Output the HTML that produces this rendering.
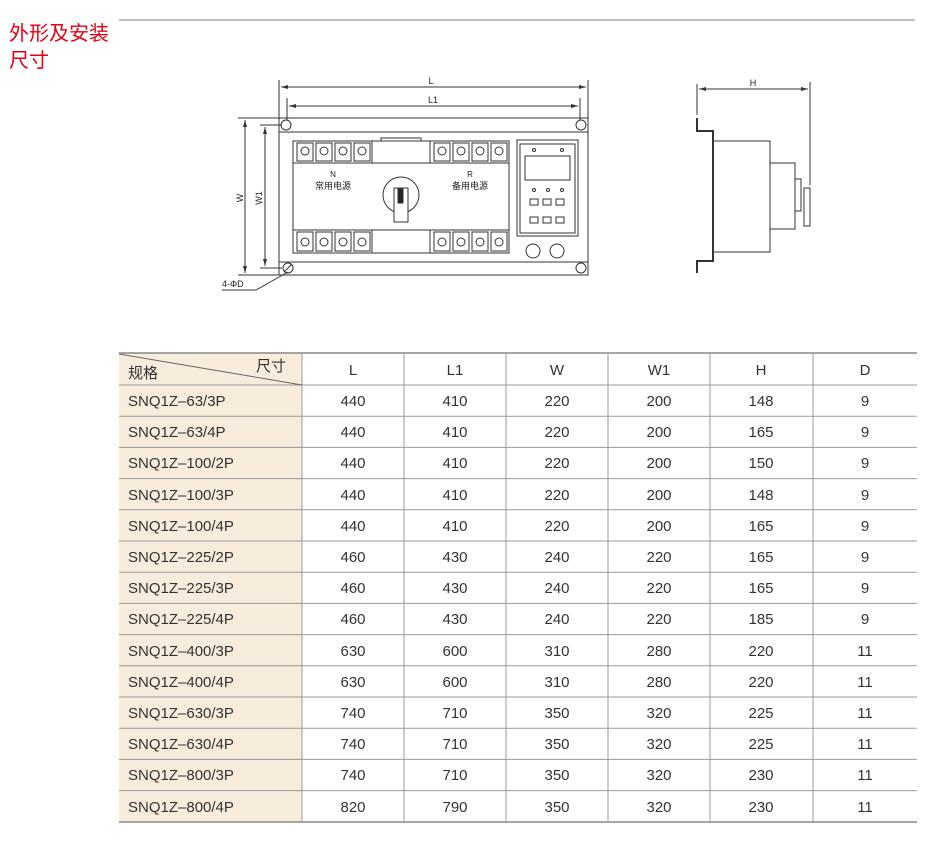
<!DOCTYPE html>
<html><head><meta charset="utf-8"><style>
body{margin:0;background:#fff;width:940px;height:858px;overflow:hidden}
svg{display:block}
.t{font-family:"Liberation Sans","Noto Sans CJK SC",sans-serif}
</style></head><body>
<svg width="940" height="858" viewBox="0 0 940 858" xmlns="http://www.w3.org/2000/svg">
<g class="t" fill="#e60012" font-size="20">
<text x="9" y="40">外形及安装</text>
<text x="9" y="67">尺寸</text>
</g>
<line x1="119" y1="20" x2="915" y2="20" stroke="#999" stroke-width="1.2"/>

<!-- front view -->
<g stroke="#333" stroke-width="1" fill="none">
<line x1="279" y1="80" x2="279" y2="118"/><line x1="588" y1="80" x2="588" y2="118"/>
<line x1="281" y1="87" x2="586" y2="87"/>
<line x1="287" y1="98" x2="287" y2="120"/><line x1="580" y1="98" x2="580" y2="120"/>
<line x1="289" y1="106" x2="578" y2="106"/>
<line x1="238" y1="118" x2="279" y2="118"/><line x1="238" y1="275" x2="279" y2="275"/>
<line x1="245" y1="120" x2="245" y2="273"/>
<line x1="260" y1="125" x2="282" y2="125"/><line x1="260" y1="268" x2="282" y2="268"/>
<line x1="265" y1="127" x2="265" y2="266"/>
<rect x="279" y="118" width="309" height="157"/>
<line x1="279" y1="132" x2="588" y2="132"/><line x1="279" y1="262" x2="588" y2="262"/>
<circle cx="286" cy="125" r="5"/><circle cx="581" cy="125" r="5"/>
<circle cx="288" cy="268" r="5"/><circle cx="581" cy="268" r="5"/>
<line x1="284" y1="272" x2="292" y2="264"/>
<polyline points="288,272 256,290 222,290"/>
<rect x="293" y="141" width="216" height="112"/>
<line x1="293" y1="163" x2="509" y2="163"/><line x1="293" y1="230" x2="509" y2="230"/>
<line x1="372" y1="141" x2="372" y2="163"/><line x1="430" y1="141" x2="430" y2="163"/>
<line x1="372" y1="230" x2="372" y2="253"/><line x1="430" y1="230" x2="430" y2="253"/>
<rect x="381" y="138" width="40" height="3"/>
<g>
<rect x="297" y="143" width="16" height="18"/><rect x="316" y="143" width="16" height="18"/><rect x="335" y="143" width="16" height="18"/><rect x="354" y="143" width="16" height="18"/>
<rect x="434" y="143" width="16" height="18"/><rect x="453" y="143" width="16" height="18"/><rect x="472" y="143" width="16" height="18"/><rect x="491" y="143" width="16" height="18"/>
<rect x="297" y="232" width="16" height="19"/><rect x="316" y="232" width="16" height="19"/><rect x="335" y="232" width="16" height="19"/><rect x="354" y="232" width="16" height="19"/>
<rect x="434" y="232" width="16" height="19"/><rect x="453" y="232" width="16" height="19"/><rect x="472" y="232" width="16" height="19"/><rect x="491" y="232" width="16" height="19"/>
</g>
<g>
<circle cx="305" cy="151" r="4"/><circle cx="324" cy="151" r="4"/><circle cx="343" cy="151" r="4"/><circle cx="362" cy="151" r="4"/>
<circle cx="442" cy="151" r="4"/><circle cx="461" cy="151" r="4"/><circle cx="480" cy="151" r="4"/><circle cx="499" cy="151" r="4"/>
<circle cx="305" cy="242" r="4"/><circle cx="324" cy="242" r="4"/><circle cx="343" cy="242" r="4"/><circle cx="362" cy="242" r="4"/>
<circle cx="442" cy="242" r="4"/><circle cx="461" cy="242" r="4"/><circle cx="480" cy="242" r="4"/><circle cx="499" cy="242" r="4"/>
</g>
<circle cx="401" cy="195" r="18"/>
<rect x="394" y="188" width="14" height="34" fill="#fff"/>
<rect x="398" y="189" width="5" height="14" fill="#222"/>
<rect x="517" y="140" width="61" height="96"/><rect x="520" y="144" width="55" height="89"/>
<rect x="525" y="156" width="45" height="24"/>
<circle cx="534" cy="150" r="1.5"/><circle cx="562" cy="150" r="1.5"/>
<circle cx="534" cy="190" r="1.5"/><circle cx="548" cy="190" r="1.5"/><circle cx="562" cy="190" r="1.5"/>
<rect x="530" y="199" width="8" height="6"/><rect x="543" y="199" width="8" height="6"/><rect x="556" y="199" width="8" height="6"/>
<rect x="530" y="217" width="8" height="6"/><rect x="543" y="217" width="8" height="6"/><rect x="556" y="217" width="8" height="6"/>
<circle cx="533" cy="251" r="7"/><circle cx="557" cy="251" r="7"/>
</g>
<g fill="#333" stroke="none">
<polygon points="281,87 288,85 288,89"/><polygon points="586,87 579,85 579,89"/>
<polygon points="289,106 296,104 296,108"/><polygon points="578,106 571,104 571,108"/>
<polygon points="245,120 243,127 247,127"/><polygon points="245,273 243,266 247,266"/>
<polygon points="265,127 263,134 267,134"/><polygon points="265,266 263,259 267,259"/>
</g>
<g class="t" fill="#222" font-size="9">
<text x="431" y="84" text-anchor="middle">L</text>
<text x="433" y="103" text-anchor="middle">L1</text>
<text x="243" y="198" text-anchor="middle" transform="rotate(-90 243 198)">W</text>
<text x="262" y="198" text-anchor="middle" transform="rotate(-90 262 198)">W1</text>
<text x="222" y="287">4-ΦD</text>
<text x="333" y="177" text-anchor="middle" font-size="8">N</text>
<text x="333" y="189" text-anchor="middle">常用电源</text>
<text x="470" y="177" text-anchor="middle" font-size="8">R</text>
<text x="470" y="189" text-anchor="middle">备用电源</text>
<text x="753" y="86" text-anchor="middle">H</text>
</g>

<!-- side view -->
<g stroke="#333" stroke-width="1" fill="none">
<line x1="697" y1="84" x2="697" y2="115"/><line x1="810" y1="82" x2="810" y2="185"/>
<line x1="699" y1="89" x2="808" y2="89"/>
<polyline points="697,118 697,131 713,131 713,261 697,261 697,273" stroke-width="2"/>
<rect x="713" y="141" width="57" height="111"/>
<rect x="770" y="163" width="25" height="66"/>
<rect x="795" y="179" width="6" height="32"/>
<rect x="804" y="188" width="6" height="38"/>
</g>
<g fill="#333"><polygon points="699,89 706,87 706,91"/><polygon points="808,89 801,87 801,91"/></g>

<!-- table -->
<rect x="119" y="353" width="183" height="469" fill="#f8ecdc"/>
<g stroke="#999" stroke-width="1">
<line x1="119" y1="353" x2="917" y2="353" stroke-width="1.5" stroke="#888"/>
<line x1="119" y1="385" x2="917" y2="385"/>
<line x1="119" y1="416.2" x2="917" y2="416.2"/><line x1="119" y1="447.4" x2="917" y2="447.4"/>
<line x1="119" y1="478.6" x2="917" y2="478.6"/><line x1="119" y1="509.8" x2="917" y2="509.8"/>
<line x1="119" y1="541" x2="917" y2="541"/><line x1="119" y1="572.2" x2="917" y2="572.2"/>
<line x1="119" y1="603.4" x2="917" y2="603.4"/><line x1="119" y1="634.6" x2="917" y2="634.6"/>
<line x1="119" y1="665.8" x2="917" y2="665.8"/><line x1="119" y1="697" x2="917" y2="697"/>
<line x1="119" y1="728.2" x2="917" y2="728.2"/><line x1="119" y1="759.4" x2="917" y2="759.4"/>
<line x1="119" y1="790.6" x2="917" y2="790.6"/>
<line x1="119" y1="822" x2="917" y2="822" stroke-width="1.5" stroke="#888"/>
<line x1="302" y1="353" x2="302" y2="822"/><line x1="404" y1="353" x2="404" y2="822"/>
<line x1="506" y1="353" x2="506" y2="822"/><line x1="608" y1="353" x2="608" y2="822"/>
<line x1="710" y1="353" x2="710" y2="822"/><line x1="813" y1="353" x2="813" y2="822"/>
<line x1="119" y1="354" x2="302" y2="385" stroke="#666"/>
</g>
<g class="t" fill="#333" font-size="15">
<text x="128" y="378">规格</text><text x="256" y="371">尺寸</text>
<g text-anchor="middle">
<text x="353" y="375">L</text><text x="455" y="375">L1</text><text x="557" y="375">W</text>
<text x="659" y="375">W1</text><text x="761" y="375">H</text><text x="865" y="375">D</text>
</g>
</g>
<g class="t" fill="#333" font-size="15">
<g>
<text x="128" y="406">SNQ1Z–63/3P</text><text x="128" y="437">SNQ1Z–63/4P</text>
<text x="128" y="468">SNQ1Z–100/2P</text><text x="128" y="500">SNQ1Z–100/3P</text>
<text x="128" y="531">SNQ1Z–100/4P</text><text x="128" y="562">SNQ1Z–225/2P</text>
<text x="128" y="593">SNQ1Z–225/3P</text><text x="128" y="624">SNQ1Z–225/4P</text>
<text x="128" y="656">SNQ1Z–400/3P</text><text x="128" y="687">SNQ1Z–400/4P</text>
<text x="128" y="718">SNQ1Z–630/3P</text><text x="128" y="749">SNQ1Z–630/4P</text>
<text x="128" y="780">SNQ1Z–800/3P</text><text x="128" y="812">SNQ1Z–800/4P</text>
</g>
<g text-anchor="middle">
<text x="353" y="406">440</text><text x="455" y="406">410</text><text x="557" y="406">220</text><text x="659" y="406">200</text><text x="761" y="406">148</text><text x="865" y="406">9</text>
<text x="353" y="437">440</text><text x="455" y="437">410</text><text x="557" y="437">220</text><text x="659" y="437">200</text><text x="761" y="437">165</text><text x="865" y="437">9</text>
<text x="353" y="468">440</text><text x="455" y="468">410</text><text x="557" y="468">220</text><text x="659" y="468">200</text><text x="761" y="468">150</text><text x="865" y="468">9</text>
<text x="353" y="500">440</text><text x="455" y="500">410</text><text x="557" y="500">220</text><text x="659" y="500">200</text><text x="761" y="500">148</text><text x="865" y="500">9</text>
<text x="353" y="531">440</text><text x="455" y="531">410</text><text x="557" y="531">220</text><text x="659" y="531">200</text><text x="761" y="531">165</text><text x="865" y="531">9</text>
<text x="353" y="562">460</text><text x="455" y="562">430</text><text x="557" y="562">240</text><text x="659" y="562">220</text><text x="761" y="562">165</text><text x="865" y="562">9</text>
<text x="353" y="593">460</text><text x="455" y="593">430</text><text x="557" y="593">240</text><text x="659" y="593">220</text><text x="761" y="593">165</text><text x="865" y="593">9</text>
<text x="353" y="624">460</text><text x="455" y="624">430</text><text x="557" y="624">240</text><text x="659" y="624">220</text><text x="761" y="624">185</text><text x="865" y="624">9</text>
<text x="353" y="656">630</text><text x="455" y="656">600</text><text x="557" y="656">310</text><text x="659" y="656">280</text><text x="761" y="656">220</text><text x="865" y="656">11</text>
<text x="353" y="687">630</text><text x="455" y="687">600</text><text x="557" y="687">310</text><text x="659" y="687">280</text><text x="761" y="687">220</text><text x="865" y="687">11</text>
<text x="353" y="718">740</text><text x="455" y="718">710</text><text x="557" y="718">350</text><text x="659" y="718">320</text><text x="761" y="718">225</text><text x="865" y="718">11</text>
<text x="353" y="749">740</text><text x="455" y="749">710</text><text x="557" y="749">350</text><text x="659" y="749">320</text><text x="761" y="749">225</text><text x="865" y="749">11</text>
<text x="353" y="780">740</text><text x="455" y="780">710</text><text x="557" y="780">350</text><text x="659" y="780">320</text><text x="761" y="780">230</text><text x="865" y="780">11</text>
<text x="353" y="812">820</text><text x="455" y="812">790</text><text x="557" y="812">350</text><text x="659" y="812">320</text><text x="761" y="812">230</text><text x="865" y="812">11</text>
</g>
</g>
</svg>
</body></html>
